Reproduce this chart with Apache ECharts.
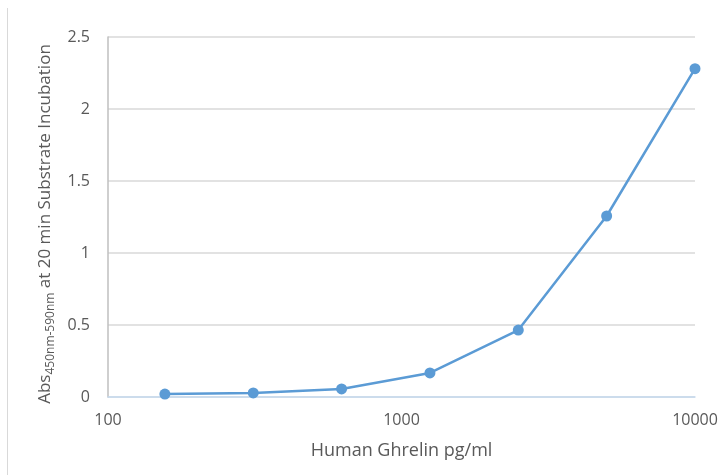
<!DOCTYPE html>
<html>
<head>
<meta charset="utf-8">
<script src="https://cdn.jsdelivr.net/npm/echarts@6/dist/echarts.min.js"></script>
<style>html,body{margin:0;padding:0;background:#fff;}#c{width:722px;height:475px;}</style>
</head>
<body>
<div id="c"></div>
<script>
var concentrations = [156.25, 312.5, 625, 1250, 2500, 5000, 10000];
var absorbance = [0.02, 0.028, 0.056, 0.167, 0.465, 1.257, 2.28];
var xTitle = 'Human Ghrelin pg/ml';

var chart = echarts.init(document.getElementById('c'));
var data = concentrations.map(function (c, i) { return [c, absorbance[i]]; });
chart.setOption({
  animation: false,
  backgroundColor: '#ffffff',
  grid: { left: 108, right: 27, top: 37, bottom: 78 },
  xAxis: {
    type: 'log', logBase: 10, min: 100, max: 10000,
    name: xTitle, nameLocation: 'middle', nameGap: 45,
    nameTextStyle: { fontFamily: 'Open Sans', fontSize: 18, color: '#595959' },
    axisLine: { show: true, onZero: false, lineStyle: { color: '#c5daf0', width: 1.5 } },
    axisTick: { show: false },
    splitLine: { show: false },
    minorTick: { show: false },
    axisLabel: {
      fontFamily: 'Open Sans', fontSize: 16, color: '#595959', margin: 15,
      formatter: function (v) { return String(Math.round(v)); }
    }
  },
  yAxis: {
    type: 'value', min: 0, max: 2.5, interval: 0.5,
    name: '{a|Abs}{s|450nm-590nm}{a| at 20 min Substrate Incubation}',
    nameLocation: 'middle', nameGap: 50, nameRotate: 90,
    nameTextStyle: {
      padding: [0, 14, 0, 0],
      rich: {
        a: { fontFamily: 'Open Sans', fontSize: 17, color: '#595959', verticalAlign: 'bottom', lineHeight: 22, padding: [0, 0, 3, 0] },
        s: { fontFamily: 'Open Sans', fontSize: 12, color: '#595959', verticalAlign: 'bottom', lineHeight: 14 }
      }
    },
    axisLine: { show: true, lineStyle: { color: '#bfbfbf', width: 1.5 } },
    axisTick: { show: false },
    splitLine: { show: true, lineStyle: { color: '#d9d9d9', width: 1.5 } },
    axisLabel: {
      fontFamily: 'Open Sans', fontSize: 16, color: '#595959', margin: 18,
      formatter: function (v) { return String(v); }
    }
  },
  graphic: [{
    type: 'line', shape: { x1: 7.5, y1: 8, x2: 7.5, y2: 475 },
    style: { stroke: '#d9d9d9', lineWidth: 1 }
  }],
  series: [{
    type: 'line', data: data,
    symbol: 'circle', symbolSize: 11,
    lineStyle: { color: '#5b9bd5', width: 2.5 },
    itemStyle: { color: '#5b9bd5' }
  }]
});
</script>
</body>
</html>
